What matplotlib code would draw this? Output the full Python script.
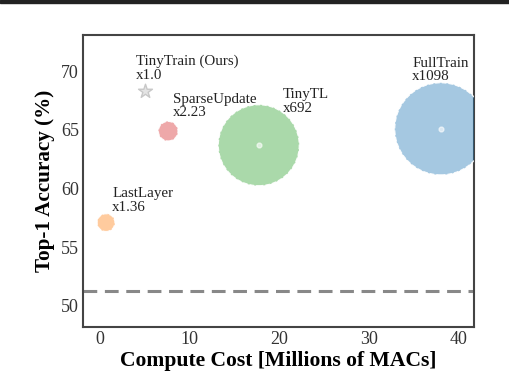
import matplotlib
matplotlib.use("Agg")
import matplotlib.pyplot as plt
from matplotlib.patches import Rectangle

plt.rcParams['font.family'] = ['Liberation Serif', 'DejaVu Serif']

methods = ["TinyTrain (Ours)", "SparseUpdate", "TinyTL", "FullTrain", "LastLayer"]
ratios = ["x1.0", "x2.23", "x692", "x1098", "x1.36"]
compute = [5.0, 7.6, 17.7, 38.0, 0.67]
accuracy = [68.3, 64.9, 63.7, 65.1, 57.1]
sizes = [110, 200, 3400, 4400, 165]
colors = ["#bbbbbb", "tab:red", "tab:green", "tab:blue", "tab:orange"]
markers = ["*", "o", "o", "o", "o"]
label_dx = [-1.0, 0.5, 2.7, -3.2, 0.7]
label_dy = [0.8, 1.0, 2.6, 3.9, 0.75]
baseline = 51.3

fig = plt.figure(figsize=(5.10, 3.76), dpi=100)
ax = fig.add_axes([83/510, 1-327/376, (474-83)/510, (327-35)/376])

for i in range(len(methods)):
    if markers[i] == "*":
        ax.scatter(compute[i], accuracy[i], s=sizes[i], marker="*", facecolor="#e4e4e4",
                   edgecolor="#c8c8c8", linewidth=1.0, zorder=3)
    else:
        ax.scatter(compute[i], accuracy[i], s=sizes[i], marker="o", color=colors[i],
                   alpha=0.4, edgecolor="none", zorder=3)
        ax.scatter(compute[i], accuracy[i], s=sizes[i], marker="o", facecolor="none",
                   edgecolor="white", linewidth=0.9, linestyle="--", alpha=0.9, zorder=4)
        if sizes[i] > 1000:
            ax.scatter(compute[i], accuracy[i], s=12, color="white", alpha=0.6, zorder=5)
    ax.text(compute[i] + label_dx[i], accuracy[i] + label_dy[i],
            methods[i] + "\n" + ratios[i], fontsize=10.8, color="#222222",
            ha="left", va="bottom", linespacing=1.05, zorder=6)

ax.axhline(baseline, color="#888888", linestyle="--", linewidth=2.2, dashes=(4.5, 2.5))

ax.set_xlim(-1.9, 41.7)
ax.set_ylim(48.2, 73.1)
ax.set_xticks([0, 10, 20, 30, 40])
ax.set_yticks([50, 55, 60, 65, 70])
ax.tick_params(length=0, labelsize=13, labelcolor="#333333", pad=3)
for s in ax.spines.values():
    s.set_color("#444444")
    s.set_linewidth(1.5)

ax.set_xlabel("Compute Cost [Millions of MACs]", fontsize=15.6, fontweight="bold", labelpad=2)
ax.set_ylabel("Top-1 Accuracy (%)", fontsize=15.2, fontweight="bold", labelpad=4)

fig.add_artist(Rectangle((0, 1-3/376), 1, 3/376, transform=fig.transFigure,
                         color="#222222", zorder=10))

fig.savefig("out.png", dpi=100)
